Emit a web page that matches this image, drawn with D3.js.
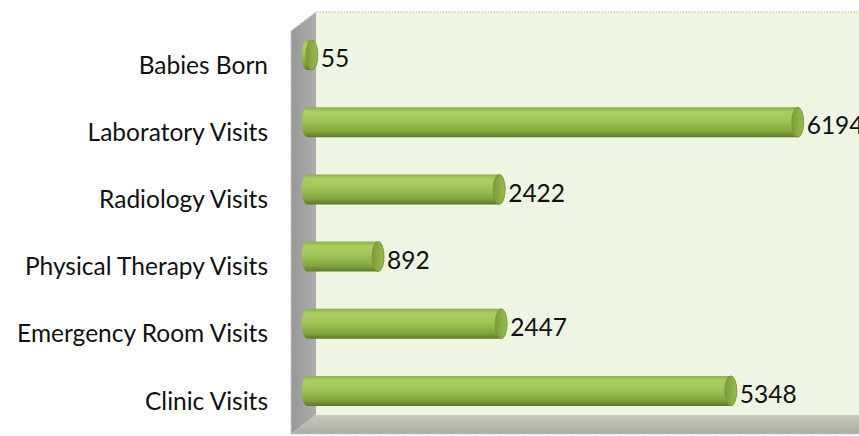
<!DOCTYPE html>
<html>
<head>
<meta charset="utf-8">
<script src="https://cdn.jsdelivr.net/npm/d3@7"></script>
<style>
  body { margin: 0; background: #fff; }
  svg { display: block; }
  .cat { font-family: Lato, "Open Sans", sans-serif; font-size: 24.5px; fill: #111; }
  .val { font-family: Lato, "Open Sans", sans-serif; font-size: 24.5px; fill: #111; }
</style>
</head>
<body>
<svg id="chart" width="859" height="436"></svg>
<script>
let width = 859;
let height = 436;

let categories = ["Babies Born", "Laboratory Visits", "Radiology Visits",
                  "Physical Therapy Visits", "Emergency Room Visits", "Clinic Visits"];
let values = [55, 6194, 2422, 892, 2447, 5348];

let data = categories.map((c, i) => ({ name: c, value: values[i] }));

// 3d depth offset of the box
let depthX = 25, depthY = -19;
let frontLeft = 291, frontTop = 31, frontBottom = 434;
let capRx = 6, barH = 30;

let x = d3.scaleLinear().domain([0, 7000]).range([307, 861]);
let y = d3.scaleBand().domain(categories).range([frontTop, frontBottom]);

let svg = d3.select("#chart");
let defs = svg.append("defs");

let wallGrad = defs.append("linearGradient").attr("id", "wall").attr("x1", 0).attr("x2", 1);
wallGrad.append("stop").attr("offset", "0%").attr("stop-color", "#979797");
wallGrad.append("stop").attr("offset", "100%").attr("stop-color", "#adadad");

let floorGrad = defs.append("linearGradient").attr("id", "floor").attr("x1", 0).attr("x2", 0).attr("y1", 0).attr("y2", 1);
floorGrad.append("stop").attr("offset", "0%").attr("stop-color", "#c4c8bd");
floorGrad.append("stop").attr("offset", "100%").attr("stop-color", "#a9aea3");

let barGrad = defs.append("linearGradient").attr("id", "bar").attr("x1", 0).attr("x2", 0).attr("y1", 0).attr("y2", 1);
barGrad.append("stop").attr("offset", "0%").attr("stop-color", "#8caf45");
barGrad.append("stop").attr("offset", "15%").attr("stop-color", "#a9d062");
barGrad.append("stop").attr("offset", "45%").attr("stop-color", "#9fc558");
barGrad.append("stop").attr("offset", "80%").attr("stop-color", "#83a63e");
barGrad.append("stop").attr("offset", "100%").attr("stop-color", "#5c7a27");

let capGrad = defs.append("linearGradient").attr("id", "cap").attr("x1", 0).attr("x2", 1);
capGrad.append("stop").attr("offset", "0%").attr("stop-color", "#7c9b38");
capGrad.append("stop").attr("offset", "100%").attr("stop-color", "#98bc51");

let backLeft = frontLeft + depthX;
let backTop = frontTop + depthY;
let backBottom = frontBottom + depthY;

// back wall
svg.append("rect")
   .attr("x", backLeft).attr("y", backTop)
   .attr("width", width - backLeft + 5).attr("height", backBottom - backTop)
   .attr("fill", "#eef5e3");

// side wall
svg.append("path")
   .attr("d", `M${frontLeft},${frontTop} L${backLeft},${backTop} L${backLeft},${backBottom} L${frontLeft},${frontBottom} Z`)
   .attr("fill", "url(#wall)");

// floor
svg.append("path")
   .attr("d", `M${frontLeft},${frontBottom} L${backLeft},${backBottom} L${width + 5},${backBottom} L${width + 5},${frontBottom} Z`)
   .attr("fill", "url(#floor)");

// dotted outline
svg.append("path")
   .attr("d", `M${frontLeft},${frontBottom} L${frontLeft},${frontTop} L${backLeft},${backTop} L${width + 5},${backTop}
               M${frontLeft},${frontBottom} L${width + 5},${frontBottom}`)
   .attr("fill", "none")
   .attr("stroke", "#c8c8c8")
   .attr("stroke-width", 1.5)
   .attr("stroke-dasharray", "1.5,1.5");

// bars sit halfway into the depth
let midX = depthX / 2, midY = depthY / 2;
let bars = svg.append("g").attr("transform", `translate(${midX - 12},${midY})`);

let cy = d => y(d.name) + y.bandwidth() / 2;

bars.selectAll("path.body")
    .data(data)
    .enter()
    .append("path")
    .attr("class", "body")
    .attr("d", d => {
      let x0 = x(0), x1 = Math.max(x(d.value), x0 + 0.5), t = cy(d) - barH / 2, b = cy(d) + barH / 2;
      return `M${x0},${t} L${x1},${t} A${capRx},${barH / 2} 0 0 1 ${x1},${b} L${x0},${b} A${capRx},${barH / 2} 0 0 1 ${x0},${t} Z`;
    })
    .attr("fill", "url(#bar)");

bars.selectAll("ellipse.cap")
    .data(data)
    .enter()
    .append("ellipse")
    .attr("class", "cap")
    .attr("cx", d => Math.max(x(d.value), x(0) + 0.5))
    .attr("cy", cy)
    .attr("rx", capRx)
    .attr("ry", barH / 2)
    .attr("fill", "url(#cap)")
    .attr("stroke", "#779632")
    .attr("stroke-width", 0.8);

bars.selectAll("text.val")
    .data(data)
    .enter()
    .append("text")
    .attr("class", "val")
    .attr("x", d => x(d.value) + capRx + 3)
    .attr("y", d => cy(d) + 6)
    .attr("dominant-baseline", "middle")
    .text(d => d.value);

// category labels on the front plane
svg.selectAll("text.cat")
   .data(data)
   .enter()
   .append("text")
   .attr("class", "cat")
   .attr("x", 268)
   .attr("y", d => y(d.name) + y.bandwidth() / 2 + 3)
   .attr("text-anchor", "end")
   .attr("dominant-baseline", "middle")
   .text(d => d.name);
</script>
</body>
</html>
